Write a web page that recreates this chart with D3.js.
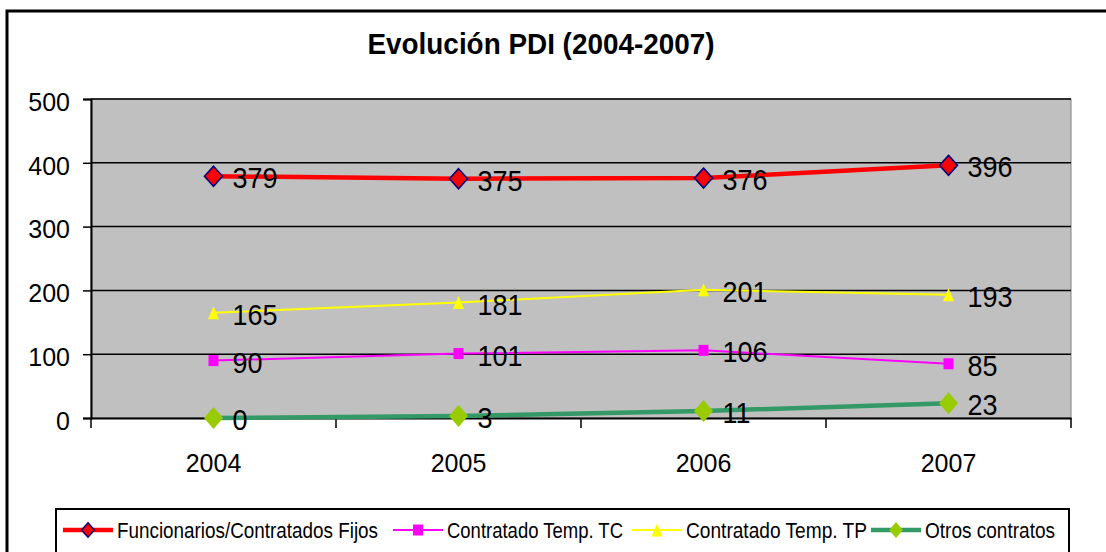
<!DOCTYPE html>
<html><head><meta charset="utf-8">
<script src="https://cdn.jsdelivr.net/npm/d3@7"></script>
<style>body{margin:0;background:#fff}svg{display:block}text{font-family:"Liberation Sans",Arial,sans-serif}</style>
</head><body><svg id="c" width="1106" height="552"></svg>
<script>
const title = "Evolución PDI (2004-2007)";
const years = ["2004","2005","2006","2007"];
const yTicks = [0,100,200,300,400,500];
const seriesNames = ["Funcionarios/Contratados Fijos","Contratado Temp. TC","Contratado Temp. TP","Otros contratos"];
const funcionarios = [379,375,376,396];
const temporalTC = [90,101,106,85];
const temporalTP = [165,181,201,193];
const otros = [0,3,11,23];

const styles = [
  {line:"#FF0000", w:4.5, marker:"diamond", fill:"#FF0000", stroke:"#000080", mw:9, mh:10, lm:0.72, legendW:261},
  {line:"#FF00FF", w:2, marker:"square", fill:"#FF00FF", stroke:"none", mw:5, mh:5.5, lm:1, legendW:176},
  {line:"#FFFF00", w:2, marker:"triangle", fill:"#FFFF00", stroke:"none", mw:5.5, mh:6.5, lm:1, legendW:181},
  {line:"#339966", w:4.5, marker:"diamond", fill:"#99CC00", stroke:"none", mw:9.5, mh:11, lm:0.72, legendW:130}
];
const series = [funcionarios, temporalTC, temporalTP, otros];

const svg = d3.select("#c");
const L=91,R=1071,T=99,B=418;
const x = d3.scaleBand().domain(years).range([L,R]);
const y = d3.scaleLinear().domain([0,500]).range([B,T]);

svg.append("rect").attr("x",7).attr("y",11).attr("width",1300).attr("height",700)
  .attr("fill","none").attr("stroke","#000").attr("stroke-width",3);

svg.append("text").attr("x",541).attr("y",0).attr("text-anchor","middle")
  .attr("transform","translate(0,54) scale(1,1.1)")
  .attr("font-size",27).attr("font-weight","bold").attr("textLength",347).attr("lengthAdjust","spacingAndGlyphs").text(title);

svg.append("rect").attr("x",L).attr("y",T).attr("width",R-L).attr("height",B-T)
  .attr("fill","#C0C0C0").attr("stroke","#808080").attr("stroke-width",1);

svg.append("g").selectAll("line").data(yTicks.filter(d=>d>0)).join("line")
  .attr("x1",L).attr("x2",R).attr("y1",d=>y(d)).attr("y2",d=>y(d))
  .attr("stroke","#000").attr("stroke-width",1.5);

const ya = svg.append("g").attr("transform",`translate(${L},0)`)
  .call(d3.axisLeft(y).tickValues(yTicks).tickSize(8).tickPadding(13).tickFormat(d3.format("d")));
ya.select(".domain").attr("stroke","#000").attr("stroke-width",2);
ya.selectAll(".tick line").attr("stroke","#000").attr("stroke-width",1.5);
ya.selectAll("text").attr("font-size",25).attr("font-family","Liberation Sans, Arial").attr("fill","#000").attr("dy","0.45em");

const xa = svg.append("g").attr("transform",`translate(0,${B})`)
  .call(d3.axisBottom(x).tickSize(0).tickPadding(36));
xa.select(".domain").attr("stroke","#000").attr("stroke-width",2);
xa.selectAll("text").attr("font-size",25).attr("font-family","Liberation Sans, Arial").attr("fill","#000");
const bounds = years.map(d=>x(d)).concat([R]);
svg.append("g").selectAll("line").data(bounds).join("line")
  .attr("x1",d=>d).attr("x2",d=>d).attr("y1",B).attr("y2",B+10)
  .attr("stroke","#000").attr("stroke-width",1.5);

const cx = d => x(d)+x.bandwidth()/2;
function markerPath(m, w, h){
  if(m==="diamond") return `M0,${-h}L${w},0L0,${h}L${-w},0Z`;
  if(m==="square") return `M${-w},${-h}H${w}V${h}H${-w}Z`;
  return `M0,${-h}L${w},${h}L${-w},${h}Z`;
}
const lineGen = d3.line().x((d,i)=>cx(years[i])).y(d=>y(d));

series.forEach((vals,si)=>{
  const s = styles[si];
  const g = svg.append("g");
  g.append("path").datum(vals).attr("d",lineGen).attr("fill","none")
    .attr("stroke",s.line).attr("stroke-width",s.w).attr("stroke-linejoin","round");
  g.selectAll("path.m").data(vals).join("path").attr("class","m")
    .attr("transform",(d,i)=>`translate(${cx(years[i])},${y(d)})`)
    .attr("d",markerPath(s.marker,s.mw,s.mh)).attr("fill",s.fill)
    .attr("stroke",s.stroke).attr("stroke-width",1.6);
  g.selectAll("text").data(vals).join("text")
    .attr("transform",(d,i)=>`translate(${cx(years[i])+19},${y(d)+12}) scale(1,1.1)`)
    .attr("font-size",27).attr("fill","#000").text(d=>d);
});

svg.append("rect").attr("x",56).attr("y",509).attr("width",1013).attr("height",60)
  .attr("fill","#fff").attr("stroke","#000").attr("stroke-width",2);
const lx = [63,393,632,871];
const ly = 530;
series.forEach((vals,si)=>{
  const s = styles[si];
  const g = svg.append("g").attr("transform",`translate(${lx[si]},${ly})`);
  g.append("line").attr("x1",0).attr("x2",50).attr("y1",0).attr("y2",0)
    .attr("stroke",s.line).attr("stroke-width",s.w);
  g.append("path").attr("transform","translate(25,0)")
    .attr("d",markerPath(s.marker,s.mw*s.lm,s.mh*s.lm)).attr("fill",s.fill)
    .attr("stroke",s.stroke).attr("stroke-width",1.5);
  g.append("text").attr("x",54).attr("y",8).attr("font-size",22)
    .attr("textLength",s.legendW).attr("lengthAdjust","spacingAndGlyphs")
    .attr("fill","#000").text(seriesNames[si]);
});
</script></body></html>
